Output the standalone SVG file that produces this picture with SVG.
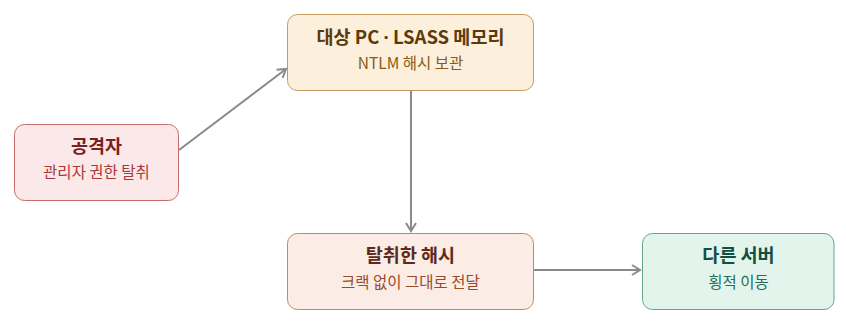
<svg xmlns="http://www.w3.org/2000/svg" width="846" height="327" viewBox="0 0 846 327">
<defs>
<style>
.t{font-family:"Noto Sans CJK KR","Noto Sans",sans-serif;font-size:18.5px;font-weight:700;text-anchor:middle}
.s{font-family:"Noto Sans CJK KR","Noto Sans",sans-serif;font-size:15.5px;text-anchor:middle}
.d{font-family:"Noto Sans",sans-serif}
.c{fill:none;stroke:#8a8a8a;stroke-width:2;marker-end:url(#ah)}
</style>
<marker id="ah" markerWidth="14" markerHeight="14" refX="11" refY="7" orient="auto" markerUnits="userSpaceOnUse">
<path d="M3,2 L11,7 L3,12" fill="none" stroke="#8a8a8a" stroke-width="2"/>
</marker>
</defs>
<rect width="846" height="327" fill="#ffffff"/>
<g id="connectors">
<line class="c" x1="179" y1="150" x2="286" y2="69"/>
<line class="c" x1="411" y1="91" x2="411" y2="231"/>
<line class="c" x1="534" y1="270" x2="640" y2="270"/>
</g>
<g id="attacker">
<rect x="14.5" y="124.5" width="164" height="76" rx="10" fill="#fbe9e9" stroke="#c96b6b"/>
<text class="t" x="96.5" y="153" fill="#7a1f22">공격자</text>
<text class="s" x="96.5" y="178" fill="#a8383a">관리자 권한 탈취</text>
</g>
<g id="lsass">
<rect x="287.5" y="14.5" width="246" height="76" rx="10" fill="#fcefdc" stroke="#c49a5f"/>
<text class="t" x="410.5" y="44" fill="#5c3a0c">대상 PC <tspan class="d">·</tspan> LSASS 메모리</text>
<text class="s" x="410.5" y="68.5" fill="#8a5a10">NTLM 해시 보관</text>
</g>
<g id="hash">
<rect x="287.5" y="233.5" width="246" height="76" rx="10" fill="#fbece6" stroke="#c9836b"/>
<text class="t" x="410.5" y="262" fill="#5e2a1a">탈취한 해시</text>
<text class="s" x="410.5" y="287.5" fill="#9a4a2a">크랙 없이 그대로 전달</text>
</g>
<g id="server">
<rect x="642.5" y="233.5" width="191.5" height="76" rx="10" fill="#e3f4ec" stroke="#5fa88e"/>
<text class="t" x="738.5" y="262" fill="#114f40">다른 서버</text>
<text class="s" x="738.5" y="287.5" fill="#1f6f5a">횡적 이동</text>
</g>
</svg>
